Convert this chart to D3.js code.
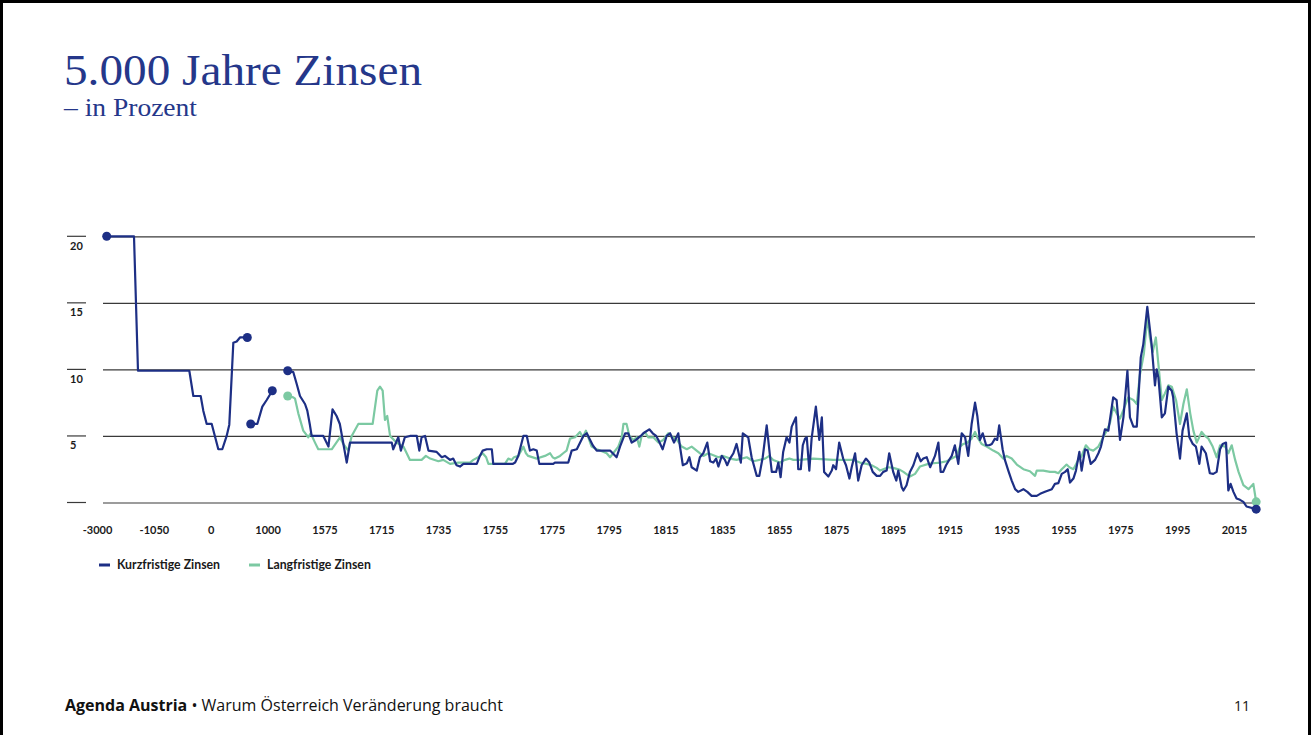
<!DOCTYPE html>
<html>
<head>
<meta charset="utf-8">
<script src="https://cdn.jsdelivr.net/npm/d3@7"></script>
<style>
	body { margin: 0; background: #fff; }
	svg { display: block; }
	.tick-label { font-family: Lato, "Open Sans", sans-serif; font-size: 11px; font-weight: 700; fill: #1a1a1a; }
	.legend-label { font-family: Lato, "Open Sans", sans-serif; font-size: 12.3px; font-weight: 700; fill: #1a1a1a; }
</style>
</head>
<body>
<svg id="chart"></svg>
<script>
/*
	Data
	* years are positions on the (piecewise) year axis, values in percent
*/
const xTickYears = [-3000, -1050, 0, 1000, 1575, 1715, 1735, 1755, 1775, 1795, 1815, 1835, 1855, 1875, 1895, 1915, 1935, 1955, 1975, 1995, 2015]
const yTickValues = [0, 5, 10, 15, 20]
const seriesNames = ['Kurzfristige Zinsen', 'Langfristige Zinsen']

//short term rates, antiquity (two separate pieces)
const shortSeg1 = [[-2667,20],[-1731,20],[-1594,9.9],[-395,9.9],[-321,8.0],[-185,8.0],[-137,6.9],[-74,5.9],[18,5.9],[134,4.0],[204,4.0],[281,5.0],[327,5.85],[398,12.0],[457,12.1],[515,12.4],[644,12.4]]
const shortSeg2 = [[704,5.9],[820,5.9],[908,7.2],[985,7.7],[1048,8.4]]

//short term rates, 1204 onwards
const shortRates = [
	[1204,9.9],[1260,9.8],[1295,8.9],[1328,8.0],[1379,7.4],[1402,6.9],[1429,5.8],[1446,5.0],[1564,5.0],[1585,4.2],[1595,7.0],[1605,6.5],[1613,5.9],[1630,3.0],[1638,4.5],
	[1718.7,4.5],[1719.2,4.0],[1721.0,4.9],[1721.9,3.9],[1723.3,4.9],[1725.1,5.0],[1727.5,5.0],[1728.4,3.9],[1729.2,4.9],[1730.4,5.0],[1731.6,3.9],[1734.5,3.8],[1736.3,3.4],[1737.4,3.5],[1739.2,3.2],
	[1740.3,3.3],[1741.5,2.8],[1742.7,2.7],[1743.9,2.9],[1748.6,2.9],[1749.7,3.5],[1750.7,3.9],[1752.1,4.0],[1753.9,4.0],[1754.4,2.9],[1761.2,2.9],[1762.1,3.0],[1763.2,3.5],[1765.0,5.0],[1766.2,5.0],
	[1767.3,3.9],[1768.5,4.0],[1769.7,3.9],[1770.6,2.9],[1775.5,2.9],[1776.1,3.0],[1780.8,3.0],[1782.0,3.9],[1783.8,4.0],[1786.1,5.0],[1787.3,5.2],[1789.4,4.3],[1790.8,3.9],[1795.5,3.9],[1797.8,3.4],
	[1799.0,4.2],[1800.8,5.2],[1801.9,5.2],[1803.1,4.5],[1804.6,4.7],[1806.3,5.0],[1807.2,5.2],[1809.3,5.5],[1810.5,5.2],[1811.7,5.0],[1812.5,4.7],[1814.0,4.0],[1815.4,5.0],[1816.6,5.2],[1818.0,4.5],
	[1819.5,5.2],[1820.1,4.2],[1821.1,2.8],[1822.5,2.95],[1823.4,3.4],[1824.2,2.65],[1826.0,2.4],[1827.1,3.4],[1828.3,3.7],[1829.7,4.5],[1830.7,3.1],[1831.8,3.0],[1832.8,3.3],[1833.6,2.7],[1834.8,3.5],
	[1835.9,3.2],[1836.7,2.8],[1837.7,3.3],[1838.9,3.7],[1840.0,4.4],[1841.5,3.0],[1842.2,5.2],[1844.1,4.9],[1845.3,3.4],[1847.1,2.0],[1848.0,2.0],[1849.2,3.4],[1850.6,5.8],[1851.8,3.4],[1852.4,2.3],
	[1853.9,2.3],[1854.7,3.0],[1855.5,1.9],[1856.4,3.8],[1857.6,4.9],[1858.6,4.5],[1859.4,5.7],[1860.9,6.4],[1861.7,2.5],[1862.6,2.5],[1863.3,4.3],[1864.1,4.8],[1864.7,4.9],[1865.6,2.4],[1866.4,4.8],
	[1867.9,7.2],[1869.1,4.7],[1870.0,6.4],[1870.8,2.3],[1872.3,1.95],[1873.5,2.4],[1874.0,2.8],[1875.0,2.5],[1876.1,4.5],[1877.5,3.3],[1878.5,2.8],[1879.7,1.8],[1880.5,2.65],[1881.7,3.7],[1882.8,1.65],
	[1884.0,2.8],[1885.5,3.3],[1886.7,3.0],[1887.9,2.3],[1889.3,2.0],[1890.5,2.0],[1891.6,2.3],[1892.8,2.4],[1893.7,3.7],[1895.1,2.3],[1896.2,1.65],[1896.9,2.4],[1898.1,1.15],[1898.7,0.9],[1899.8,1.3],
	[1901.0,2.3],[1902.2,2.8],[1903.6,3.7],[1904.8,3.1],[1905.7,3.3],[1906.9,3.4],[1908.1,2.65],[1909.8,3.5],[1911.0,4.5],[1911.8,2.3],[1912.7,2.3],[1913.7,2.8],[1914.8,3.2],[1915.7,3.5],[1916.8,4.3],
	[1918.0,2.9],[1919.2,5.2],[1920.4,4.9],[1921.5,3.5],[1922.7,5.9],[1923.9,7.5],[1924.7,6.5],[1925.6,4.7],[1926.6,5.2],[1927.8,4.3],[1928.9,4.3],[1929.8,4.4],[1930.9,4.8],[1931.7,4.7],[1932.4,5.8],
	[1933.6,4.0],[1934.4,3.2],[1935.6,2.4],[1936.8,1.65],[1938.0,1.0],[1939.1,0.8],[1940.9,1.0],[1942.3,0.8],[1943.8,0.5],[1945.6,0.5],[1946.8,0.65],[1948.5,0.8],[1949.7,0.9],[1950.9,1.0],[1952.0,1.4],
	[1953.2,1.45],[1954.4,2.15],[1955.6,2.3],[1956.5,2.5],[1957.3,1.5],[1958.5,1.8],[1959.4,2.4],[1960.6,3.8],[1961.4,2.4],[1962.6,4.0],[1963.5,3.9],[1964.6,2.9],[1966.1,3.2],[1967.3,3.7],[1968.2,4.2],
	[1969.6,5.5],[1970.8,5.4],[1972.5,7.9],[1973.7,7.7],[1974.9,4.7],[1976.1,6.4],[1977.5,9.9],[1978.4,6.4],[1979.6,5.7],[1980.8,5.7],[1982.2,10.9],[1983.1,11.9],[1984.5,14.7],[1985.2,13.4],[1986.0,11.9],
	[1987.2,8.8],[1987.8,10.0],[1988.4,9.4],[1989.6,6.4],[1990.7,6.7],[1991.9,8.7],[1993.1,8.4],[1993.6,7.9],[1994.8,5.2],[1996.0,3.3],[1996.9,5.4],[1998.4,6.7],[1999.3,4.9],[2000.5,4.4],[2001.6,4.2],
	[2002.8,2.9],[2003.6,4.2],[2005.1,3.7],[2006.5,2.2],[2007.7,2.15],[2008.9,2.3],[2010.1,4.0],[2011.0,4.4],[2012.2,4.5],[2013.0,0.9],[2013.8,1.4],[2014.8,0.8],[2015.9,0.3],[2017.1,0.2],[2018.3,0.05],
	[2019.4,-0.3],[2022.8,-0.5]
]

//long term rates, 1204 onwards
const longRates = [
	[1204,8.0],[1260,7.9],[1278,7.8],[1311,6.7],[1361,5.4],[1412,4.9],[1436,5.2],[1480,4.5],[1513,4.0],[1593,4.0],[1613.4,4.9],[1621.5,4.4],[1633.9,3.9],[1642.2,5.0],[1658.5,5.9],[1693.9,5.9],
	[1705.3,8.4],[1711.9,8.7],[1715.5,8.4],[1716.3,6.2],[1717.1,6.5],[1718.1,5.0],[1720.4,4.5],[1722.8,4.2],[1725.1,3.2],[1729.2,3.2],[1730.7,3.5],[1732.2,3.3],[1735.1,3.1],[1736.8,3.2],[1739.2,2.9],
	[1742.1,3.0],[1746.2,3.0],[1747.4,3.2],[1749.1,3.4],[1750.7,3.7],[1751.9,3.4],[1752.7,2.9],[1758.5,2.9],[1759.7,3.3],[1760.9,3.2],[1761.7,3.4],[1763.2,3.5],[1765.0,4.2],[1765.9,3.7],[1766.7,3.5],
	[1769.7,3.3],[1772.6,3.5],[1774.4,3.7],[1775.3,3.4],[1776.1,3.3],[1777.9,3.5],[1779.0,3.7],[1780.2,3.9],[1781.4,4.8],[1783.2,4.9],[1784.9,5.3],[1785.9,4.9],[1787.0,5.4],[1789.0,4.2],[1790.8,4.0],
	[1792.0,3.9],[1794.3,3.7],[1795.5,3.4],[1796.6,3.7],[1798.4,4.2],[1799.6,4.9],[1800.2,5.9],[1801.3,5.9],[1802.3,5.0],[1803.7,4.7],[1804.9,4.9],[1805.8,4.2],[1806.6,5.0],[1807.8,5.3],[1808.9,4.9],
	[1810.7,4.9],[1812.5,4.5],[1814.2,4.7],[1816.0,5.2],[1817.5,4.9],[1818.7,4.8],[1820.7,4.2],[1822.5,4.0],[1824.2,4.2],[1826.5,3.8],[1828.3,3.5],[1830.1,3.7],[1833.6,3.4],[1835.3,3.5],[1837.7,3.3],
	[1840.0,3.2],[1841.8,3.3],[1843.6,3.4],[1845.9,3.1],[1850.0,3.3],[1851.5,3.5],[1852.9,3.2],[1855.3,3.0],[1857.0,3.2],[1858.6,3.3],[1860.0,3.2],[1862.3,3.2],[1867.0,3.3],[1874.0,3.2],[1881.1,3.2],
	[1883.4,3.0],[1885.8,2.9],[1887.5,2.8],[1889.3,2.6],[1890.5,2.4],[1893.4,2.65],[1895.1,2.6],[1897.5,2.45],[1898.7,2.3],[1901.0,1.95],[1902.8,2.15],[1904.5,2.7],[1907.5,2.9],[1909.2,2.95],[1911.6,3.0],
	[1913.9,3.1],[1915.7,3.3],[1917.4,3.5],[1918.6,4.2],[1919.8,4.4],[1921.2,4.5],[1922.7,4.8],[1923.9,5.3],[1924.7,4.9],[1926.2,4.4],[1928.0,4.2],[1930.3,3.9],[1932.1,3.7],[1933.8,3.3],[1935.0,3.5],
	[1936.8,3.3],[1938.6,2.85],[1940.9,2.5],[1943.2,2.35],[1945.0,2.0],[1945.6,2.4],[1947.9,2.4],[1950.3,2.3],[1952.0,2.3],[1953.2,2.2],[1954.4,2.5],[1956.1,2.85],[1957.1,2.65],[1958.5,2.5],[1960.2,3.2],
	[1961.4,3.5],[1962.9,4.3],[1964.1,4.0],[1965.5,3.9],[1967.3,4.2],[1969.0,4.9],[1970.2,5.4],[1971.4,6.0],[1972.5,7.2],[1973.7,6.7],[1974.9,6.3],[1976.7,7.3],[1977.8,7.9],[1979.6,7.7],[1980.8,7.4],
	[1981.9,9.6],[1983.3,11.2],[1984.5,13.9],[1985.4,12.4],[1986.4,11.3],[1987.5,12.4],[1988.4,10.4],[1989.6,7.7],[1990.7,8.2],[1991.9,8.8],[1993.1,8.7],[1994.6,7.7],[1996.0,5.9],[1997.2,7.4],[1998.4,8.5],
	[1999.6,6.7],[2000.7,5.4],[2001.9,4.5],[2003.6,5.3],[2004.8,5.0],[2006.0,4.8],[2007.5,4.2],[2008.9,3.4],[2010.1,4.3],[2011.9,4.2],[2013.0,3.7],[2014.2,4.3],[2015.4,3.2],[2016.6,2.3],[2018.3,1.3],
	[2020.1,1.0],[2021.8,1.4],[2022.8,0.05]
]


/*
	Drawing constants
*/
const [width, height] = [1313, 735]
const navy = '#1d2f85'
const mint = '#7cc9a2'
const titleColor = '#25378a'
const gridLeft = 103, gridRight = 1255
const tickStep = 56.85, firstTickX = 97

const svg = d3.select('#chart').attr('width', width).attr('height', height)
svg.append('rect').attr('width', width).attr('height', height).attr('fill', '#fff')
//slide frame
svg.append('path')
	.attr('d', `M1.5,${height} V1.5 H1309.5 V${height}`)
	.attr('fill', 'none').attr('stroke', '#000').attr('stroke-width', 3)

/*
	Scales
	* the year axis is piecewise: equal spacing between labels, very compressed before 1715
*/
const breakYears = [-3000, -1050, 0, 1000, 1575, 1715, 2015]
const x = d3.scaleLinear()
	.domain(breakYears)
	.range(breakYears.map(yr => firstTickX + xTickYears.indexOf(yr) * tickStep))
const y = d3.scaleLinear().domain([0, 20]).range([502.5, 236.3])

//horizontal grid
const yAxis = d3.axisRight(y).tickValues(yTickValues).tickSize(gridRight - gridLeft).tickFormat('')
const gridG = svg.append('g').attr('transform', `translate(${gridLeft},0)`).call(yAxis)
gridG.select('.domain').remove()
gridG.selectAll('.tick line').attr('stroke', '#3a3a3a').attr('stroke-width', 1.2)

//short tick marks + labels on the left
const yLab = svg.append('g')
yTickValues.forEach(v => {
	yLab.append('line').attr('x1', 67).attr('x2', 86).attr('y1', y(v)).attr('y2', y(v))
		.attr('stroke', '#3a3a3a').attr('stroke-width', 1.2)
	if (v > 0) yLab.append('text').attr('class', 'tick-label').attr('x', 70).attr('y', y(v) + 13.5).text(v)
})

//x labels
const xAxis = d3.axisBottom(x).tickValues(xTickYears).tickSize(0).tickPadding(0).tickFormat(d => String(d))
const xG = svg.append('g').attr('transform', 'translate(0,534)').call(xAxis)
xG.select('.domain').remove()
xG.selectAll('.tick text').attr('class', 'tick-label').attr('dy', 0).attr('fill', null)

/*
	Lines
*/
const line = d3.line().x(d => x(d[0])).y(d => y(d[1]))
const lineG = svg.append('g')
const lines = [
	{data: shortSeg1, color: navy},
	{data: shortSeg2, color: navy},
	{data: longRates, color: mint},
	{data: shortRates, color: navy}
]
lineG.selectAll('path').data(lines).enter().append('path')
	.attr('d', d => line(d.data))
	.attr('fill', 'none')
	.attr('stroke', d => d.color)
	.attr('stroke-width', 2.2)
	.attr('stroke-linejoin', 'round')

//end point markers
const dots = [
	{p: shortSeg1[0], color: navy}, {p: shortSeg1[shortSeg1.length - 1], color: navy},
	{p: shortSeg2[0], color: navy}, {p: shortSeg2[shortSeg2.length - 1], color: navy},
	{p: longRates[0], color: mint}, {p: shortRates[0], color: navy},
	{p: longRates[longRates.length - 1], color: mint}, {p: shortRates[shortRates.length - 1], color: navy}
]
lineG.selectAll('circle').data(dots).enter().append('circle')
	.attr('cx', d => x(d.p[0])).attr('cy', d => y(d.p[1])).attr('r', 4.5)
	.attr('fill', d => d.color)

/*
	Legend
*/
const legend = svg.append('g').attr('transform', 'translate(99,565)')
const legendX = [0, 150]
seriesNames.forEach((name, i) => {
	const g = legend.append('g').attr('transform', `translate(${legendX[i]},0)`)
	g.append('line').attr('x1', 0).attr('x2', 11).attr('stroke', i ? mint : navy).attr('stroke-width', 3)
	g.append('text').attr('class', 'legend-label').attr('x', 18).attr('y', 4.2).text(name)
})

/*
	Titles and footer
*/
svg.append('text').attr('x', 64).attr('y', 85)
	.attr('font-family', '"Liberation Serif", serif').attr('font-size', 44).attr('fill', titleColor)
	.attr('textLength', 358).attr('lengthAdjust', 'spacingAndGlyphs')
	.text('5.000 Jahre Zinsen')
svg.append('text').attr('x', 64).attr('y', 116)
	.attr('font-family', '"Liberation Serif", serif').attr('font-size', 26).attr('fill', titleColor)
	.attr('textLength', 133).attr('lengthAdjust', 'spacingAndGlyphs')
	.text('– in Prozent')

const footer = svg.append('text').attr('x', 65).attr('y', 711)
	.attr('font-family', '"Open Sans", Lato, sans-serif').attr('font-size', 16).attr('fill', '#111')
footer.append('tspan').attr('font-weight', 700).text('Agenda Austria')
footer.append('tspan').text(' • Warum Österreich Veränderung braucht')
svg.append('text').attr('x', 1250).attr('y', 711).attr('text-anchor', 'end')
	.attr('font-family', '"Open Sans", Lato, sans-serif').attr('font-size', 14).attr('fill', '#111')
	.text('11')
</script>
</body>
</html>
